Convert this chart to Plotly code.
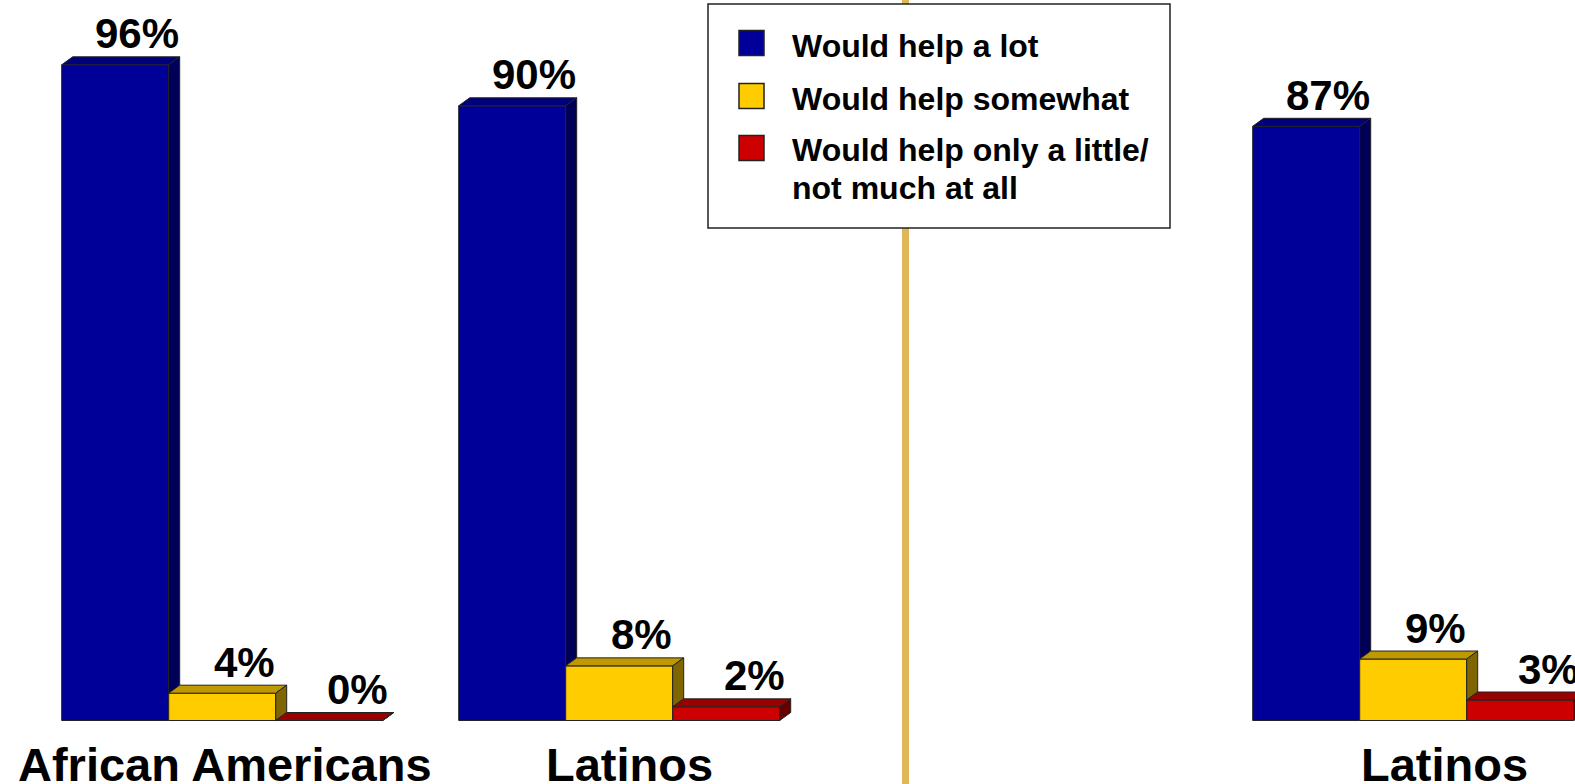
import plotly.graph_objects as go

# ---------------- data ----------------
groups = ["African Americans", "Latinos", "Latinos"]
group_slots = [0, 1, 3]          # slot 2 is the empty gap holding the divider
series_names = ["Would help a lot", "Would help somewhat",
                "Would help only a little/<br>not much at all"]
would_help_a_lot = [96, 90, 87]
would_help_somewhat = [4, 8, 9]
would_help_little = [0, 2, 3]
value_labels = [["96%", "90%", "87%"], ["4%", "8%", "9%"], ["0%", "2%", "3%"]]

front_colors = ["#000099", "#FFCC00", "#CC0000"]
top_colors = ["#00007C", "#BF9900", "#990000"]
side_colors = ["#000057", "#806600", "#660000"]
edge = "#222222"

# ---------------- geometry / style ----------------
W, H = 1575, 784
px_per_slot = 397.0
px_per_pct = 6.83
base_px = 720.5
first_center_px = 222.2
bar_w = 107 / px_per_slot
dx = 11 / px_per_slot
dy = 8 / px_per_pct
label_xshift = [3, 10, 31]
value_xshift = [22, 22, 28]
FONT = "Liberation Sans, Arial, sans-serif"

values = [would_help_a_lot, would_help_somewhat, would_help_little]

fig = go.Figure()

# front faces as real bars
for j, vals in enumerate(values):
    xs = [s + (j - 1) * bar_w for s in group_slots]
    fig.add_trace(go.Bar(
        x=xs, y=vals, width=bar_w, name=series_names[j].replace("<br>", " "),
        marker=dict(color=front_colors[j], line=dict(color=edge, width=1)),
        showlegend=False, hoverinfo="skip"))

# 3-D top and side faces
for j, vals in enumerate(values):
    tx, ty, sx, sy = [], [], [], []
    for k, s in enumerate(group_slots):
        xl = s + (j - 1) * bar_w - bar_w / 2
        xr = xl + bar_w
        v = vals[k]
        tx += [xl, xl + dx, xr + dx, xr, xl, None]
        ty += [v, v + dy, v + dy, v, v, None]
        nb = values[j + 1][k] if j < len(values) - 1 else 0
        yb = min(nb, v)
        sx += [xr, xr + dx, xr + dx, xr, xr, None]
        sy += [yb, yb + dy, v + dy, v, yb, None]
    fig.add_trace(go.Scatter(x=tx, y=ty, mode="lines", fill="toself",
                             fillcolor=top_colors[j], line=dict(color=edge, width=1),
                             showlegend=False, hoverinfo="skip"))
    fig.add_trace(go.Scatter(x=sx, y=sy, mode="lines", fill="toself",
                             fillcolor=side_colors[j], line=dict(color=edge, width=1),
                             showlegend=False, hoverinfo="skip"))

annotations = []
# value labels
for j, vals in enumerate(values):
    for k, s in enumerate(group_slots):
        annotations.append(dict(
            x=s + (j - 1) * bar_w, y=vals[k], xref="x", yref="y",
            text=value_labels[j][k], showarrow=False, xanchor="center", yanchor="middle",
            xshift=value_xshift[j], yshift=31,
            font=dict(family=FONT, size=42, color="black", weight="bold")))

# category labels
for k, s in enumerate(group_slots):
    annotations.append(dict(
        x=s, y=1 - 764 / H, xref="x", yref="paper", text=groups[k], showarrow=False,
        xanchor="center", yanchor="middle", xshift=label_xshift[k],
        font=dict(family=FONT, size=47, color="black", weight="bold")))

shapes = []
# divider line
shapes.append(dict(type="line", xref="paper", yref="paper", x0=905.5 / W, x1=905.5 / W,
                   y0=0, y1=1, line=dict(color="#DDB75A", width=7), layer="below"))
# legend box
shapes.append(dict(type="rect", xref="paper", yref="paper",
                   x0=708 / W, x1=1170 / W, y0=1 - 228 / H, y1=1 - 4 / H,
                   fillcolor="white", line=dict(color="#222222", width=1.5), layer="above"))
sw_centers = [43, 96, 148]
line_centers = [46, 99, 150]
line_step = 38
for j in range(3):
    cy = sw_centers[j]
    shapes.append(dict(type="rect", xref="paper", yref="paper",
                       x0=739 / W, x1=764 / W, y0=1 - (cy + 12.5) / H, y1=1 - (cy - 12.5) / H,
                       fillcolor=front_colors[j], line=dict(color="#222222", width=1.5),
                       layer="above"))
    for li, part in enumerate(series_names[j].split("<br>")):
        annotations.append(dict(
            x=790 / W, y=1 - (line_centers[j] + li * line_step) / H, xref="paper", yref="paper",
            text=part, showarrow=False, xanchor="left", yanchor="middle", align="left",
            font=dict(family=FONT, size=32, color="black", weight="bold")))

fig.update_layout(
    width=W, height=H, margin=dict(l=0, r=0, t=0, b=0),
    paper_bgcolor="white", plot_bgcolor="white", barmode="overlay",
    xaxis=dict(visible=False, range=[(0 - first_center_px) / px_per_slot,
                                     (W - first_center_px) / px_per_slot], fixedrange=True),
    yaxis=dict(visible=False, range=[-(H - base_px) / px_per_pct, base_px / px_per_pct],
               fixedrange=True),
    annotations=annotations, shapes=shapes, showlegend=False)

fig.write_html("out.html", config={"displayModeBar": False},
               post_script="document.body.style.margin='0';document.body.style.overflow='hidden';")
